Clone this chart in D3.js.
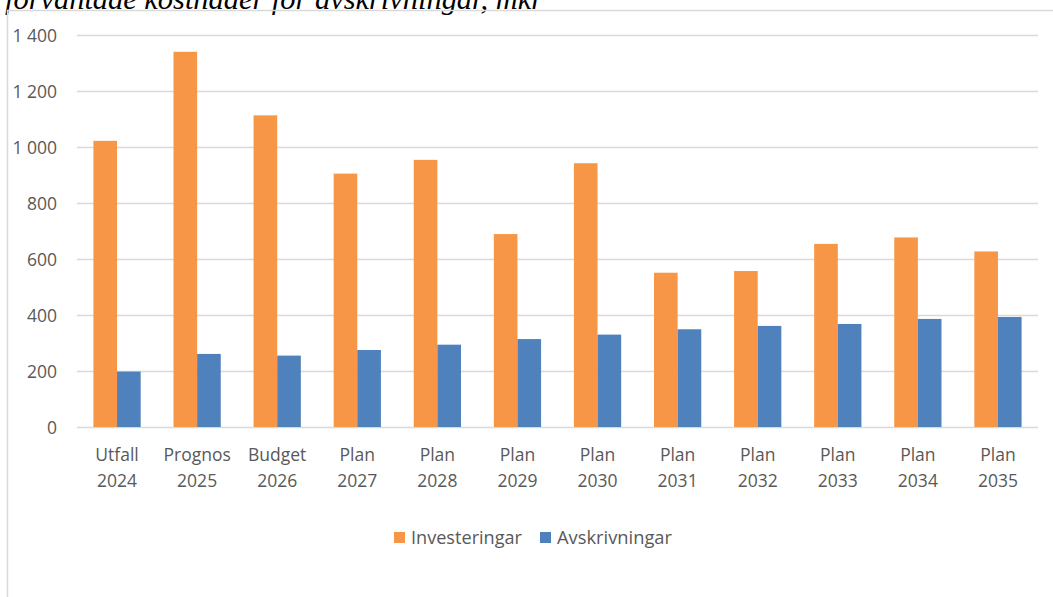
<!DOCTYPE html>
<html>
<head>
<meta charset="utf-8">
<script src="https://cdn.jsdelivr.net/npm/d3@7"></script>
<style>
  html, body { margin: 0; padding: 0; background: #fff; }
  svg { display: block; }
</style>
</head>
<body>
<svg id="chart" width="1053" height="597"></svg>
<script>
// Categories (two-line labels) and series values, mkr
const categories = ["Utfall 2024", "Prognos 2025", "Budget 2026", "Plan 2027", "Plan 2028", "Plan 2029",
                    "Plan 2030", "Plan 2031", "Plan 2032", "Plan 2033", "Plan 2034", "Plan 2035"];
const investeringar = [1022, 1340, 1113, 905, 954, 689, 942, 551, 557, 654, 677, 627];
const avskrivningar = [198, 261, 255, 275, 294, 314, 330, 349, 361, 368, 386, 393];
const seriesNames = ["Investeringar", "Avskrivningar"];
const yTicks = [0, 200, 400, 600, 800, 1000, 1200, 1400];
const titleText = "förväntade kostnader för avskrivningar, mkr";

const colors = { Investeringar: "#F79646", Avskrivningar: "#4F81BD" };
const series = [investeringar, avskrivningar];

const svg = d3.select("#chart");
const W = 1053, H = 597;
const plot = { left: 77, right: 1038, top: 35, bottom: 427 };
const font = "'Open Sans', Lato, sans-serif";
const textColor = "#595959";
const gridColor = "#d9d9d9";

// Title line partly above the chart frame
svg.append("text")
  .attr("x", 5).attr("y", 9)
  .attr("font-family", "'Liberation Serif', 'DejaVu Serif', serif")
  .attr("font-style", "italic")
  .attr("font-size", 30)
  .attr("textLength", 538)
  .attr("lengthAdjust", "spacingAndGlyphs")
  .attr("fill", "#000")
  .text(titleText);

// Chart frame (top and left edges)
svg.append("line").attr("x1", 7).attr("x2", W).attr("y1", 10.5).attr("y2", 10.5)
  .attr("stroke", gridColor).attr("stroke-width", 1.5);
svg.append("line").attr("x1", 7.5).attr("x2", 7.5).attr("y1", 10).attr("y2", H)
  .attr("stroke", gridColor).attr("stroke-width", 1.5);

const x0 = d3.scaleBand().domain(categories).range([plot.left, plot.right]).paddingInner(0).paddingOuter(0);
const innerW = x0.bandwidth() * 0.59;
const x1 = d3.scaleBand().domain(seriesNames).range([0, innerW]);
const y = d3.scaleLinear().domain([0, 1400]).range([plot.bottom, plot.top]);

// Horizontal gridlines
svg.append("g").selectAll("line").data(yTicks).join("line")
  .attr("x1", plot.left).attr("x2", plot.right)
  .attr("y1", d => Math.round(y(d)) + 0.5).attr("y2", d => Math.round(y(d)) + 0.5)
  .attr("stroke", gridColor).attr("stroke-width", 1.5);

// Y axis labels (thousands separated by a space)
const fmt = d => d3.format(",")(d).replace(/,/g, "\u00a0");
const yAxis = d3.axisLeft(y).tickValues(yTicks).tickFormat(fmt).tickSize(0).tickPadding(0);
const gy = svg.append("g").attr("transform", `translate(57,0)`).call(yAxis);
gy.select(".domain").remove();
gy.selectAll("text").attr("font-family", font).attr("font-size", 17.5).attr("fill", textColor).attr("dy", "0.36em");

// Bars
const groups = svg.append("g").selectAll("g").data(categories).join("g")
  .attr("transform", c => `translate(${x0(c) + (x0.bandwidth() - innerW) / 2},0)`);
groups.selectAll("rect")
  .data((c, i) => seriesNames.map((s, k) => ({ s, v: series[k][i] })))
  .join("rect")
  .attr("x", d => x1(d.s))
  .attr("width", x1.bandwidth())
  .attr("y", d => y(d.v))
  .attr("height", d => y(0) - y(d.v))
  .attr("fill", d => colors[d.s]);

// X axis labels, two lines each
const xAxis = d3.axisBottom(x0).tickSize(0).tickFormat(() => "");
const gx = svg.append("g").attr("transform", `translate(0,${plot.bottom})`).call(xAxis);
gx.select(".domain").remove();
gx.selectAll(".tick").each(function (c) {
  const parts = c.split(" ");
  const t = d3.select(this).append("text")
    .attr("text-anchor", "middle")
    .attr("font-family", font).attr("font-size", 17.5).attr("fill", textColor);
  t.append("tspan").attr("x", 0).attr("y", 34).text(parts[0]);
  t.append("tspan").attr("x", 0).attr("y", 60).text(parts[1]);
});

// Legend
const legend = svg.append("g");
const legendItems = [{ s: "Investeringar", x: 394, w: 111 }, { s: "Avskrivningar", x: 540, w: 115 }];
legendItems.forEach(it => {
  legend.append("rect").attr("x", it.x).attr("y", 532).attr("width", 11).attr("height", 11)
    .attr("fill", colors[it.s]);
  legend.append("text").attr("x", it.x + 17).attr("y", 544)
    .attr("font-family", font).attr("font-size", 18).attr("fill", textColor)
    .attr("textLength", it.w).attr("lengthAdjust", "spacingAndGlyphs")
    .text(it.s);
});
</script>
</body>
</html>
